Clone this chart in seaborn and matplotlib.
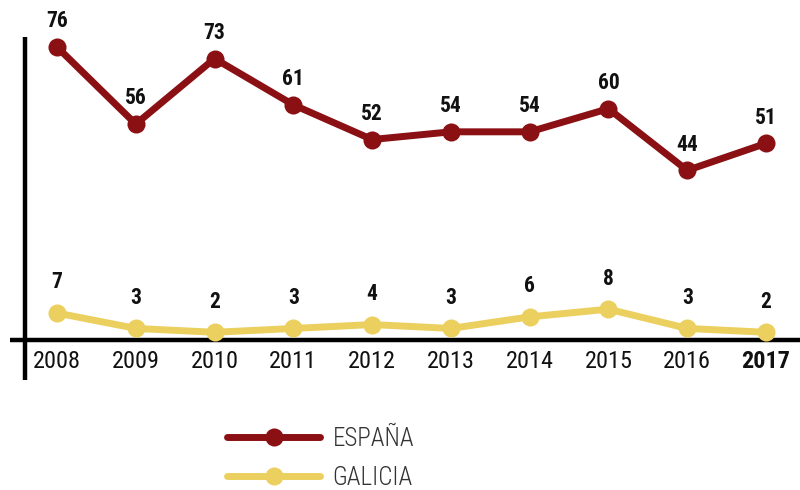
import matplotlib
matplotlib.use("Agg")
import matplotlib.pyplot as plt
import seaborn as sns
import pandas as pd
from matplotlib import font_manager as fm

years = ["2008", "2009", "2010", "2011", "2012", "2013", "2014", "2015", "2016", "2017"]
espana = [76, 56, 73, 61, 52, 54, 54, 60, 44, 51]
galicia = [7, 3, 2, 3, 4, 3, 6, 8, 3, 2]

sns.set_style("white")
names = {f.name for f in fm.fontManager.ttflist}
fam = "Roboto"
for cand in ["Roboto Condensed", "Liberation Sans Narrow", "Open Sans Condensed", "Roboto"]:
    if cand in names:
        fam = cand
        break
plt.rcParams["font.family"] = [fam, "DejaVu Sans"]

RED = "#8b1014"
YEL = "#ecd05f"

fig = plt.figure(figsize=(8, 4.9), dpi=100)
ax = fig.add_axes([0, 0, 1, 1])

idx = list(range(len(years)))
df = pd.DataFrame({"x": idx * 2,
                   "v": espana + galicia,
                   "serie": ["ESPAÑA"] * len(years) + ["GALICIA"] * len(years)})

sns.lineplot(data=df, x="x", y="v", hue="serie", palette=[RED, YEL],
             marker="o", markersize=13, markeredgewidth=0, linewidth=5,
             ax=ax, legend=True)

# scale: 2008 at px 57, 2017 at px 766; y zero at px 340, 76 at px 47
ppx = (766 - 57) / 9
ppy = (340 - 47) / 76
ax.set_xlim(-57 / ppx, (800 - 57) / ppx)
ax.set_ylim(-(490 - 340) / ppy, 340 / ppy)

for s in ["top", "right", "left", "bottom"]:
    ax.spines[s].set_visible(False)

# axis lines
ax.plot([-(57 - 10) / ppx, (800 - 57) / ppx], [0, 0], color="black", lw=3.2,
        solid_capstyle="butt", zorder=1)
ax.plot([-(57 - 25) / ppx] * 2, [-(380 - 340) / ppy, (340 - 37) / ppy],
        color="black", lw=3.2, solid_capstyle="butt", zorder=1)

ax.set_xticks(idx)
ax.set_xticklabels([])
ax.tick_params(axis="x", length=0)
ax.set_yticks([])
ax.set_xlabel("")
ax.set_ylabel("")
for i, y in enumerate(years):
    ax.text(i, -(361 - 340) / ppy, y, ha="center", va="center", fontsize=17.5,
            fontweight="bold" if y == "2017" else "normal", color="#111111")

for i, v in enumerate(espana):
    ax.annotate(str(v), (i, v), xytext=(0, 18.5), textcoords="offset points",
                ha="center", va="center", fontsize=15.5, fontweight="heavy", color="#111111")
for i, v in enumerate(galicia):
    ax.annotate(str(v), (i, v), xytext=(0, 22), textcoords="offset points",
                ha="center", va="center", fontsize=15.5, fontweight="heavy", color="#111111")

leg = ax.legend(loc="upper left", bbox_to_anchor=(205 / 800, 1 - 404 / 490),
                frameon=False, fontsize=18, handlelength=3.7, labelspacing=0.6,
                handletextpad=0.5)
for t in leg.get_texts():
    t.set_color("#333333")
    t.set_fontweight("light")
for h in leg.get_lines():
    h.set_linewidth(5)
    h.set_markersize(13)

fig.savefig("out.png", dpi=100)
